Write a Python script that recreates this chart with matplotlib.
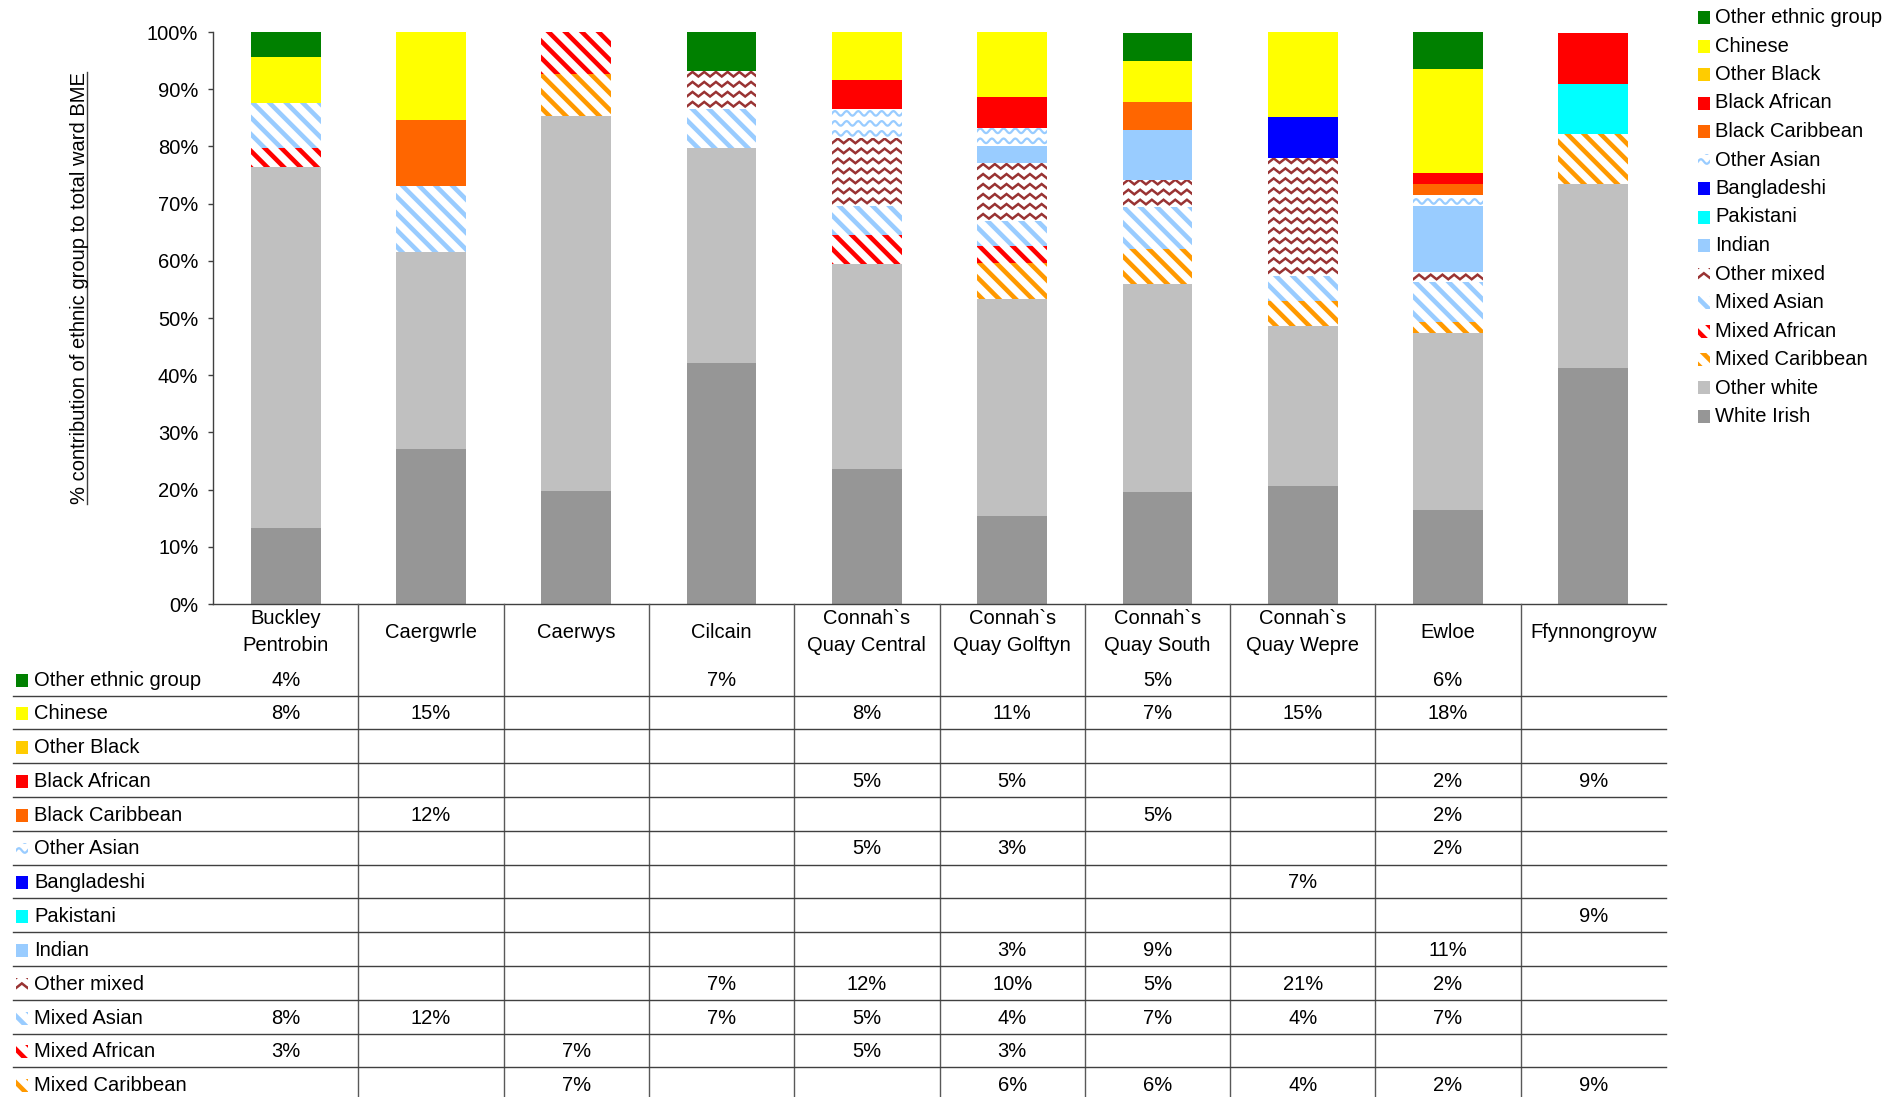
import numpy as np
import matplotlib.pyplot as plt
import matplotlib.transforms as mtransforms
from matplotlib.patches import Rectangle
from matplotlib.lines import Line2D
from matplotlib.ticker import PercentFormatter

plt.rcParams['font.family'] = ['Liberation Sans', 'DejaVu Sans']
plt.rcParams['hatch.linewidth'] = 3.3

W, H = 1901, 1097
FS = 14.5

wards = ['Buckley\nPentrobin', 'Caergwrle', 'Caerwys', 'Cilcain',
         'Connah`s\nQuay Central', 'Connah`s\nQuay Golftyn',
         'Connah`s\nQuay South', 'Connah`s\nQuay Wepre', 'Ewloe',
         'Ffynnongroyw']

# share of each group (%) per ward, stacked bottom -> top
white_irish     = [13.2, 27.1, 19.8, 42.2, 23.6, 15.4, 19.5, 20.6, 16.5, 41.2]
other_white     = [63.2, 34.4, 65.6, 37.6, 35.8, 37.9, 36.4, 28.0, 30.8, 32.2]
mixed_caribbean = [0, 0, 7.2, 0, 0, 6.4, 6.1, 4.4, 2.0, 8.8]
mixed_african   = [3.4, 0, 7.4, 0, 5.1, 2.9, 0, 0, 0, 0]
mixed_asian     = [7.8, 11.6, 0, 6.7, 5.1, 4.3, 7.4, 4.4, 7.0, 0]
other_mixed     = [0, 0, 0, 6.6, 11.8, 10.2, 4.8, 20.6, 1.8, 0]
indian          = [0, 0, 0, 0, 0, 3.0, 8.6, 0, 11.4, 0]
pakistani       = [0, 0, 0, 0, 0, 0, 0, 0, 0, 8.7]
bangladeshi     = [0, 0, 0, 0, 0, 0, 0, 7.2, 0, 0]
other_asian     = [0, 0, 0, 0, 5.1, 3.2, 0, 0, 2.0, 0]
black_caribbean = [0, 11.6, 0, 0, 0, 0, 4.9, 0, 1.9, 0]
black_african   = [0, 0, 0, 0, 5.1, 5.3, 0, 0, 1.9, 8.9]
other_black     = [0, 0, 0, 0, 0, 0, 0, 0, 0, 0]
chinese         = [8.0, 15.3, 0, 0, 8.4, 11.4, 7.3, 14.8, 18.3, 0]
other_ethnic    = [4.4, 0, 0, 6.9, 0, 0, 4.9, 0, 6.4, 0]

series = [
    ('White Irish', white_irish),
    ('Other white', other_white),
    ('Mixed Caribbean', mixed_caribbean),
    ('Mixed African', mixed_african),
    ('Mixed Asian', mixed_asian),
    ('Other mixed', other_mixed),
    ('Indian', indian),
    ('Pakistani', pakistani),
    ('Bangladeshi', bangladeshi),
    ('Other Asian', other_asian),
    ('Black Caribbean', black_caribbean),
    ('Black African', black_african),
    ('Other Black', other_black),
    ('Chinese', chinese),
    ('Other ethnic group', other_ethnic),
]

# (colour, fill kind)
styles = {
    'White Irish': ('#969696', 'solid'),
    'Other white': ('#c0c0c0', 'solid'),
    'Mixed Caribbean': ('#ff9900', 'stripe'),
    'Mixed African': ('#ff0000', 'stripe'),
    'Mixed Asian': ('#99ccff', 'stripe'),
    'Other mixed': ('#993333', 'zigzag'),
    'Indian': ('#99ccff', 'solid'),
    'Pakistani': ('#00ffff', 'solid'),
    'Bangladeshi': ('#0000ff', 'solid'),
    'Other Asian': ('#99ccff', 'wave'),
    'Black Caribbean': ('#ff6600', 'solid'),
    'Black African': ('#ff0000', 'solid'),
    'Other Black': ('#ffcc00', 'solid'),
    'Chinese': ('#ffff00', 'solid'),
    'Other ethnic group': ('#008000', 'solid'),
}

AX_L, AX_R, AX_T, AX_B = 213, 1666, 32, 604


def fx(px):
    return px / W


def fy(py):
    return 1 - py / H


def wavy(parent, patch, bbox_px, target, color, kind):
    # zigzag / wave texture in pixel space, clipped to the patch
    x0, y0, x1, y1 = bbox_px
    period, gap, amp = 11.7, 10.0, 2.3
    if kind == 'zigzag':
        xs = np.arange(x0 - period, x1 + period, period / 2)
        ph = np.where(np.arange(len(xs)) % 2 == 0, -amp, amp)
        lw = 1.8
    else:
        xs = np.arange(x0 - period, x1 + period, 1.0)
        ph = amp * np.sin(2 * np.pi * (xs - x0) / period)
        lw = 1.6
    yy = y0 + gap * 0.5
    while yy < y1 + gap:
        pts = target.inverted().transform(np.column_stack([xs, yy + ph]))
        ln = Line2D(pts[:, 0], pts[:, 1], color=color, lw=lw,
                    transform=target, solid_joinstyle='miter')
        parent.add_artist(ln)
        ln.set_clip_path(patch)
        yy += gap


fig = plt.figure(figsize=(W / 100, H / 100), dpi=100)
ax = fig.add_axes([fx(AX_L), fy(AX_B), fx(AX_R) - fx(AX_L), fy(AX_T) - fy(AX_B)])
ax.set_xlim(-0.5, len(wards) - 0.5)
ax.set_ylim(0, 100)

x = np.arange(len(wards))
bottom = np.zeros(len(wards))
for name, vals in series:
    col, kind = styles[name]
    vals = np.array(vals, dtype=float)
    if kind == 'solid':
        bars = ax.bar(x, vals, 0.48, bottom=bottom, color=col, linewidth=0)
    elif kind == 'stripe':
        bars = ax.bar(x, vals, 0.48, bottom=bottom, facecolor='white',
                      edgecolor=col, hatch='\\\\', linewidth=0)
    else:
        bars = ax.bar(x, vals, 0.48, bottom=bottom, facecolor='white',
                      linewidth=0)
        for r in bars.patches:
            if r.get_height() <= 0:
                continue
            p0 = ax.transData.transform((r.get_x(), r.get_y()))
            p1 = ax.transData.transform((r.get_x() + r.get_width(),
                                         r.get_y() + r.get_height()))
            wavy(ax, r, (p0[0], p0[1], p1[0], p1[1]), ax.transData, col, kind)
    bottom += vals

ax.set_xticks([])
ax.set_yticks(np.arange(0, 101, 10))
ax.yaxis.set_major_formatter(PercentFormatter(decimals=0))
ax.tick_params(axis='y', labelsize=FS, length=3.6, width=1, color='#404040', pad=7)
for s in ['top', 'right']:
    ax.spines[s].set_visible(False)
for s in ['left', 'bottom']:
    ax.spines[s].set_color('#404040')
    ax.spines[s].set_linewidth(1)

# y axis title with underline
ylab = fig.text(fx(85), fy(288), '% contribution of ethnic group to total ward BME',
                rotation=90, rotation_mode='anchor', ha='center', va='baseline',
                fontsize=FS)


def add_key(xl, yc, name):
    col, kind = styles[name]
    kw, kh = 12, 13
    rect = Rectangle((fx(xl), fy(yc + kh / 2)), kw / W, kh / H,
                     transform=fig.transFigure, linewidth=0)
    if kind == 'solid':
        rect.set_facecolor(col)
    elif kind == 'stripe':
        rect.set_facecolor('white')
        rect.set_edgecolor(col)
        rect.set_hatch('\\\\')
    else:
        rect.set_facecolor('white')
    fig.add_artist(rect)
    if kind in ('zigzag', 'wave'):
        wavy(fig, rect, (xl, H - yc - kh / 2, xl + kw, H - yc + kh / 2),
             fig.transFigure, col, kind)


# legend (top to bottom)
legend_order = [s[0] for s in series][::-1]
for k, name in enumerate(legend_order):
    yc = 17.5 + 28.5 * k
    add_key(1698, yc, name)
    fig.text(fx(1715), fy(yc), name, fontsize=FS, ha='left', va='center')

# data table below the plot
blend = mtransforms.blended_transform_factory(ax.transData, fig.transFigure)
for i, w in enumerate(wards):
    fig.text(i, fy(632), w, transform=blend, ha='center', va='center',
             fontsize=FS, linespacing=1.55)

for i in range(len(wards) - 1):
    fig.add_artist(Line2D([i + 0.5, i + 0.5], [fy(AX_B), fy(H + 20)],
                          transform=blend, color='#595959', lw=1))

lookup = dict(series)
for k, name in enumerate(legend_order):
    yc = 680 + 33.8 * k
    if yc > H:
        break
    add_key(16, yc, name)
    fig.text(fx(34), fy(yc), name, fontsize=FS, ha='left', va='center')
    for i, v in enumerate(lookup[name]):
        if v > 0:
            fig.text(i, fy(yc), f'{round(v)}%', transform=blend,
                     ha='center', va='center', fontsize=FS)
    yl = 695.5 + 33.8 * k
    fig.add_artist(Line2D([fx(13), fx(AX_R)], [fy(yl), fy(yl)],
                          transform=fig.transFigure, color='#404040', lw=1))

fig.canvas.draw()
bb = ylab.get_window_extent(fig.canvas.get_renderer())
fig.add_artist(Line2D([fx(87), fx(87)], [bb.y0 / H, bb.y1 / H],
                      transform=fig.transFigure, color='#404040', lw=1))

fig.savefig('out.png', dpi=100, facecolor='white')
